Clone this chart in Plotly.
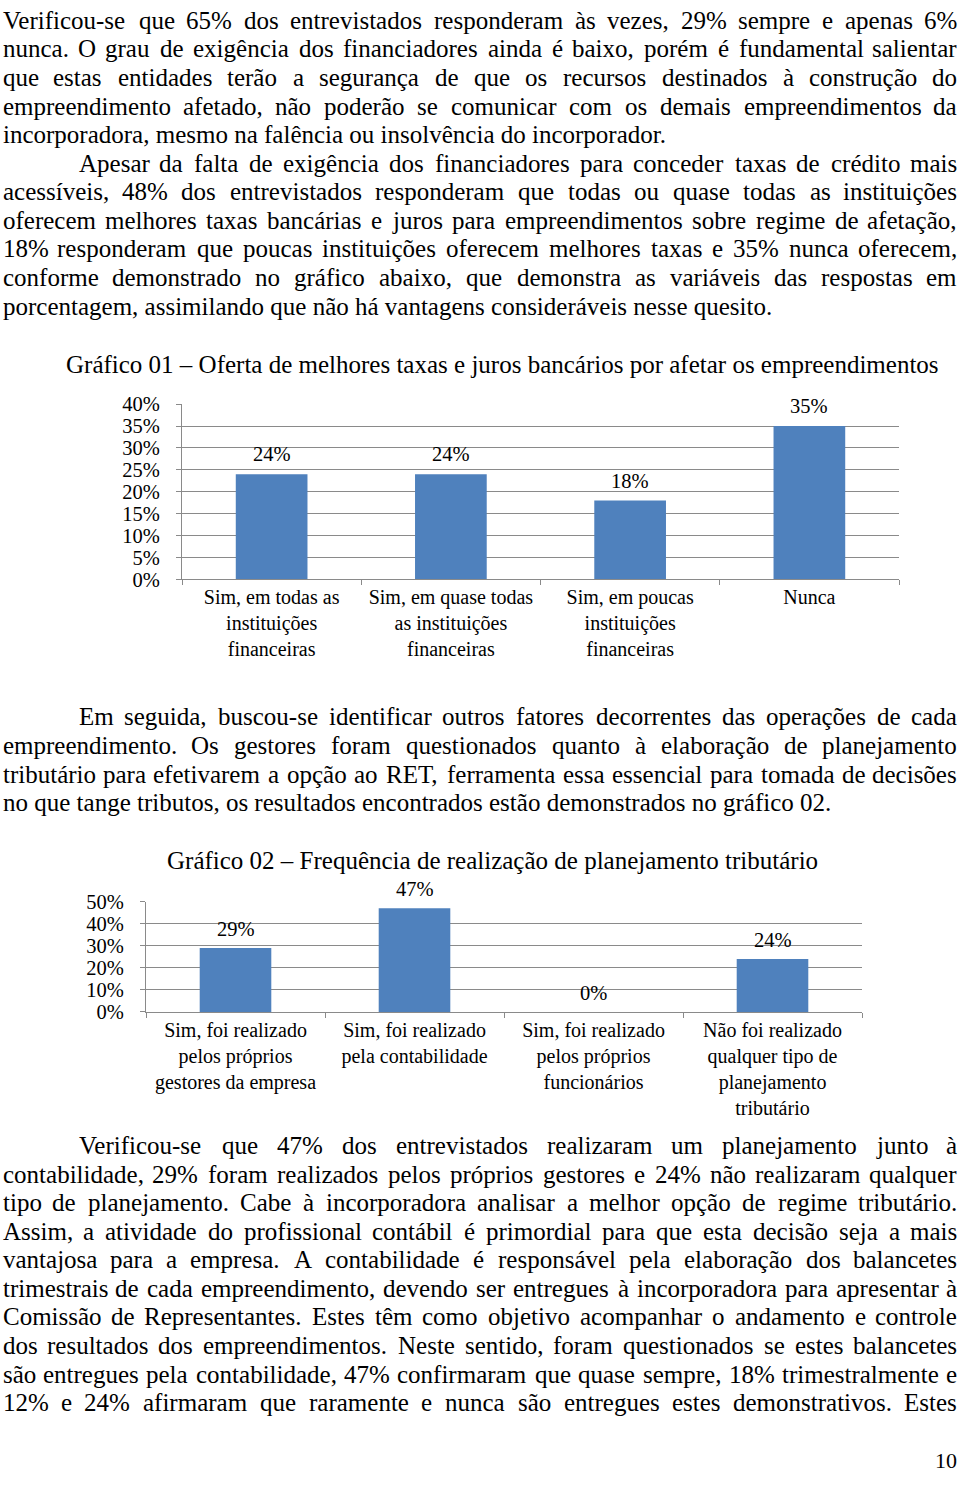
import unicodedata
import plotly.graph_objects as go

# ---------------- data ----------------
categories1 = [
    "Sim, em todas as<br>instituições<br>financeiras",
    "Sim, em quase todas<br>as instituições<br>financeiras",
    "Sim, em poucas<br>instituições<br>financeiras",
    "Nunca",
]
values1 = [24, 24, 18, 35]
yticks1 = [0, 5, 10, 15, 20, 25, 30, 35, 40]

categories2 = [
    "Sim, foi realizado<br>pelos próprios<br>gestores da empresa",
    "Sim, foi realizado<br>pela contabilidade",
    "Sim, foi realizado<br>pelos próprios<br>funcionários",
    "Não foi realizado<br>qualquer tipo de<br>planejamento<br>tributário",
]
values2 = [29, 47, 0, 24]
yticks2 = [0, 10, 20, 30, 40, 50]

title1 = "Gráfico 01 – Oferta de melhores taxas e juros bancários por afetar os empreendimentos"
title2 = "Gráfico 02 – Frequência de realização de planejamento tributário"

# (text, y_pixel, indent, justified)
para_top = [
    ("Verificou-se que 65% dos entrevistados responderam às vezes, 29% sempre e apenas 6%", 13, 0, True),
    ("nunca. O grau de exigência dos financiadores ainda é baixo, porém é fundamental salientar", 42, 0, True),
    ("que estas entidades terão a segurança de que os recursos destinados à construção do", 71, 0, True),
    ("empreendimento afetado, não poderão se comunicar com os demais empreendimentos da", 100, 0, True),
    ("incorporadora, mesmo na falência ou insolvência do incorporador.", 129, 0, False),
    ("Apesar da falta de exigência dos financiadores para conceder taxas de crédito mais", 158, 1, True),
    ("acessíveis, 48% dos entrevistados responderam que todas ou quase todas as instituições", 187, 0, True),
    ("oferecem melhores taxas bancárias e juros para empreendimentos sobre regime de afetação,", 216, 0, True),
    ("18% responderam que poucas instituições oferecem melhores taxas e 35% nunca oferecem,", 245, 0, True),
    ("conforme demonstrado no gráfico abaixo, que demonstra as variáveis das respostas em", 274, 0, True),
    ("porcentagem, assimilando que não há vantagens consideráveis nesse quesito.", 303, 0, False),
]
para_mid = [
    ("Em seguida, buscou-se identificar outros fatores decorrentes das operações de cada", 720, 1, True),
    ("empreendimento. Os gestores foram questionados quanto à elaboração de planejamento", 749, 0, True),
    ("tributário para efetivarem a opção ao RET, ferramenta essa essencial para tomada de decisões", 778, 0, True),
    ("no que tange tributos, os resultados encontrados estão demonstrados no gráfico 02.", 807, 0, False),
]
para_bot = [
    ("Verificou-se que 47% dos entrevistados realizaram um planejamento junto à", 1155, 1, True),
    ("contabilidade, 29% foram realizados pelos próprios gestores e 24% não realizaram qualquer", 1184, 0, True),
    ("tipo de planejamento. Cabe à incorporadora analisar a melhor opção de regime tributário.", 1213, 0, True),
    ("Assim, a atividade do profissional contábil é primordial para que esta decisão seja a mais", 1242, 0, True),
    ("vantajosa para a empresa. A contabilidade é responsável pela elaboração dos balancetes", 1271, 0, True),
    ("trimestrais de cada empreendimento, devendo ser entregues à incorporadora para apresentar à", 1300, 0, True),
    ("Comissão de Representantes. Estes têm como objetivo acompanhar o andamento e controle", 1329, 0, True),
    ("dos resultados dos empreendimentos. Neste sentido, foram questionados se estes balancetes", 1358, 0, True),
    ("são entregues pela contabilidade, 47% confirmaram que quase sempre, 18% trimestralmente e", 1387, 0, True),
    ("12% e 24% afirmaram que raramente e nunca são entregues estes demonstrativos. Estes", 1416, 0, True),
]
page_number = "10"

# ---------------- layout helpers ----------------
W, H = 960, 1487
FONT = "Liberation Serif"
BODY = 25
TEXT_DY = -3.5  # baseline correction for annotation vertical centring
BLUE = "#4F81BD"
GRID = "#8a8a8a"

TW = {' ': 250, '%': 833, ',': 250, '-': 333, '.': 250, ':': 278, '(': 333, ')': 333, '–': 500, '?': 444}
for d in "0123456789":
    TW[d] = 500
TW.update(dict(zip("ABCDEFGHIJKLMNOPQRSTUVWXYZ",
                   [722, 667, 667, 722, 611, 556, 722, 722, 333, 389, 722, 611, 889, 722, 722, 556, 722, 667, 556, 611, 722, 722, 944, 722, 722, 611])))
TW.update(dict(zip("abcdefghijklmnopqrstuvwxyz",
                   [444, 500, 444, 500, 444, 333, 500, 500, 278, 278, 500, 278, 778, 500, 500, 500, 500, 333, 389, 278, 500, 500, 722, 500, 500, 444])))


def text_w(s, size):
    tot = 0
    for ch in s:
        c = ch if ch in TW else unicodedata.normalize("NFD", ch)[0]
        tot += TW.get(c, 500)
    return tot * size / 1000.0


def px(x):
    return x / W


def py(y):
    return 1 - y / H


annotations = []


def ann(text, x, y, size=BODY, xanchor="left"):
    annotations.append(dict(text=text, x=px(x), y=py(y + TEXT_DY), xref="paper", yref="paper",
                            xanchor=xanchor, yanchor="middle", showarrow=False, borderpad=0,
                            font=dict(family=FONT, size=size, color="black")))


LEFT, RIGHT, INDENT = 2, 958, 76


def place_lines(lines):
    for text, y, ind, just in lines:
        x0 = LEFT + (INDENT if ind else 0)
        if not just:
            ann(text, x0, y)
            continue
        words = text.split(" ")
        ws = [text_w(w, BODY) for w in words]
        gap = (RIGHT - x0 - sum(ws)) / (len(words) - 1)
        x = x0
        for i, (w, wd) in enumerate(zip(words, ws)):
            if i == 0:
                ann(w, x0, y, xanchor="left")
            elif i == len(words) - 1:
                ann(w, RIGHT, y, xanchor="right")
            else:
                ann(w, x + wd / 2, y, xanchor="center")
            x += wd + gap


place_lines(para_top)
place_lines(para_mid)
place_lines(para_bot)
ann(title1, 65, 362)
ann(title2, 166, 866)
ann(page_number, 958, 1475, size=22, xanchor="right")

# ---------------- charts ----------------
fig = go.Figure()
fig.add_trace(go.Bar(x=categories1, y=values1, marker=dict(color=BLUE, line=dict(width=0)),
                     xaxis="x", yaxis="y", hoverinfo="skip"))
fig.add_trace(go.Bar(x=categories2, y=values2, marker=dict(color=BLUE, line=dict(width=0)),
                     xaxis="x2", yaxis="y2", hoverinfo="skip"))

for c, v in zip(categories1, values1):
    annotations.append(dict(text=f"{v}%", x=c, y=v, xref="x", yref="y", yanchor="middle", yshift=20,
                            showarrow=False, font=dict(family=FONT, size=20.5, color="black")))
for c, v in zip(categories2, values2):
    annotations.append(dict(text=f"{v}%", x=c, y=v, xref="x2", yref="y2", yanchor="middle", yshift=19,
                            showarrow=False, font=dict(family=FONT, size=20.5, color="black")))

xcommon = dict(type="category", showgrid=False, showline=True, linecolor=GRID, linewidth=1,
               ticks="outside", tickson="boundaries", ticklen=5, tickcolor=GRID,
               tickfont=dict(family=FONT, size=20, color="black"), fixedrange=True)
ycommon = dict(showgrid=True, gridcolor=GRID, gridwidth=1, showline=True, linecolor=GRID, linewidth=1,
               ticks="outside", ticklen=5, tickcolor=GRID, zeroline=False,
               tickfont=dict(family=FONT, size=20.5, color="black"), ticklabelstandoff=12, fixedrange=True)

fig.update_layout(
    width=W, height=H, margin=dict(l=0, r=0, t=0, b=0),
    paper_bgcolor="white", plot_bgcolor="white", showlegend=False, bargap=0.6,
    xaxis=dict(xcommon, domain=[px(182), px(899)], anchor="y"),
    yaxis=dict(ycommon, domain=[py(577), py(399)], range=[0, 40], tickmode="array",
               tickvals=yticks1, ticktext=[f"{v}%" for v in yticks1], anchor="x"),
    xaxis2=dict(xcommon, domain=[px(146), px(862)], anchor="y2"),
    yaxis2=dict(ycommon, domain=[py(1016), py(904)], range=[0, 50], tickmode="array",
                tickvals=yticks2, ticktext=[f"{v}%" for v in yticks2], anchor="x2"),
    annotations=annotations,
)

post = "document.body.style.margin='0';document.body.style.padding='0';"
fig.write_html("out.html", post_script=post, config={"displayModeBar": False})
